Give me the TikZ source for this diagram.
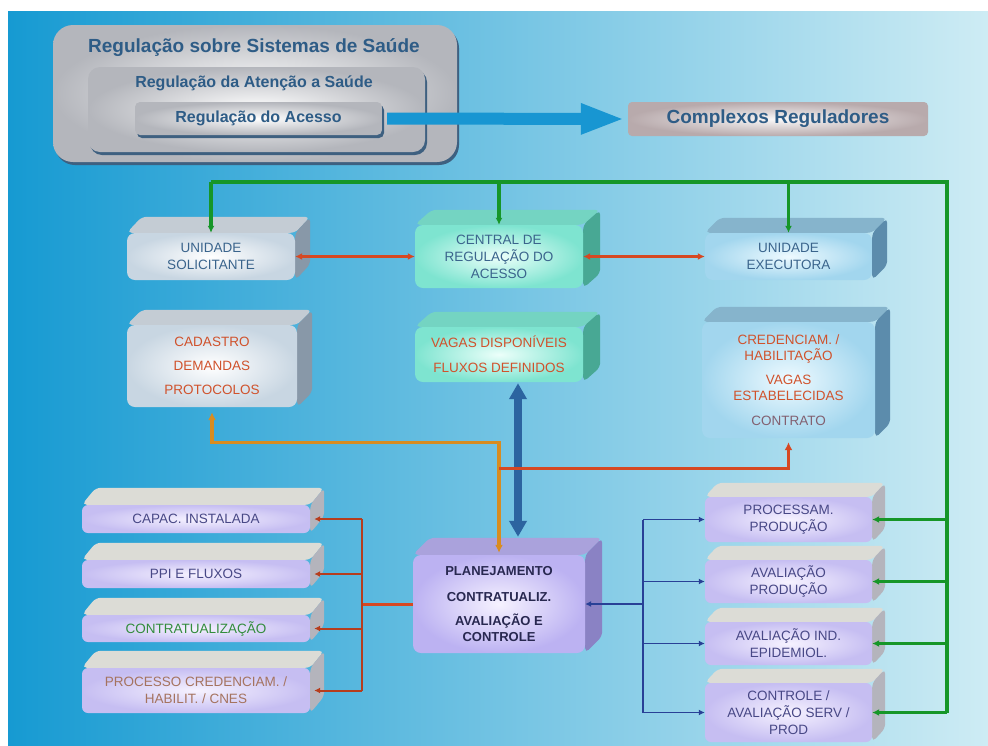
\documentclass[tikz,border=0pt]{standalone}
\usepackage{fontspec}
\setmainfont{Liberation Sans}
\usepackage{tikz}
\usetikzlibrary{arrows.meta,calc}

\definecolor{bgl}{RGB}{22,154,210}
\definecolor{bgr}{RGB}{206,236,244}
\definecolor{hdrtxt}{RGB}{46,92,134}
\definecolor{hdrgray}{RGB}{180,182,188}
\definecolor{rim}{RGB}{62,96,128}
\definecolor{crgray}{RGB}{184,170,172}
\definecolor{txtblue}{RGB}{58,100,140}
\definecolor{txtred}{RGB}{208,82,44}
\definecolor{txtmute}{RGB}{130,96,112}
\definecolor{txtnavy}{RGB}{40,40,80}
\definecolor{txtslate}{RGB}{72,72,134}
\definecolor{txtgreen}{RGB}{50,140,60}
\definecolor{txtbrown}{RGB}{165,115,95}
\definecolor{greenln}{RGB}{22,150,40}
\definecolor{redln}{RGB}{214,72,34}
\definecolor{orangeln}{RGB}{216,140,32}
\definecolor{blueln}{RGB}{44,100,160}
\definecolor{navyln}{RGB}{40,64,150}
\definecolor{arrowblue}{RGB}{24,150,210}
\definecolor{grayout}{RGB}{200,214,226}
\definecolor{graytop}{RGB}{196,204,212}
\definecolor{grayside}{RGB}{136,152,168}
\definecolor{aquain}{RGB}{236,255,250}
\definecolor{aquaout}{RGB}{126,228,208}
\definecolor{aquatop}{RGB}{116,212,194}
\definecolor{aquaside}{RGB}{72,168,148}
\definecolor{skyin}{RGB}{238,250,255}
\definecolor{skyout}{RGB}{162,214,238}
\definecolor{skytop}{RGB}{134,180,204}
\definecolor{skyside}{RGB}{92,140,172}
\definecolor{lilacin}{RGB}{246,242,255}
\definecolor{lilacout}{RGB}{188,178,242}
\definecolor{lilactop}{RGB}{170,162,220}
\definecolor{lilacside}{RGB}{138,130,196}
\definecolor{slabout}{RGB}{198,190,242}
\definecolor{slabtop}{RGB}{220,220,214}
\definecolor{slabside}{RGB}{180,180,188}

\pgfdeclarelayer{back}
\pgfdeclarelayer{faces}
\pgfsetlayers{back,faces,main}

\newcommand\boxfont{\fontsize{13.5}{17}\selectfont}
\newcommand\extrude[5]{%
  \fill[#4,rounded corners=5pt] (#1.north west) -- ([shift={(#2pt,#3pt)}]#1.north west) -- ([shift={(#2pt,#3pt)}]#1.north east) -- (#1.north east) -- cycle;
  \fill[#5,rounded corners=5pt] (#1.north east) -- ([shift={(#2pt,#3pt)}]#1.north east) -- ([shift={(#2pt,#3pt)}]#1.south east) -- (#1.south east) -- cycle;}

\tikzset{
  hdr/.style={inner color=white, outer color=hdrgray, preaction={fill=rim, transform canvas={shift={(2pt,-3pt)}}}, text=hdrtxt, font=\bfseries\fontsize{16}{18}\selectfont},
  hdrtext/.style={text=hdrtxt, inner sep=0pt},
  face/.style={rounded corners=8pt, align=center, inner sep=0pt, font=\boxfont},
  grayface/.style={face, inner color=white, outer color=grayout},
  aquaface/.style={face, inner color=aquain, outer color=aquaout},
  skyface/.style={face, inner color=skyin, outer color=skyout},
  lilacface/.style={face, inner color=lilacin, outer color=lilacout},
  slab/.style={face, rounded corners=6pt, inner color=lilacin, outer color=slabout, minimum width=228pt},
  rslab/.style={face, rounded corners=6pt, inner color=lilacin, outer color=slabout, minimum width=167pt, text=txtslate},
  gl/.style={greenln, line width=3.2pt},
  rl/.style={redln, line width=3pt},
  rthin/.style={redln!85!black, line width=2pt},
  ol/.style={orangeln, line width=3.2pt},
  nl/.style={navyln, line width=1.8pt},
  tip/.style={-{Latex[length=7pt,width=7pt]}}
}

\begin{document}
\begin{tikzpicture}[x=1pt,y=-1pt]
\useasboundingbox (0,0) rectangle (988,745);
\begin{pgfonlayer}{back}
\fill[left color=bgl, right color=bgr] (8,11) rectangle (988,745);
\end{pgfonlayer}

\node[hdr, rounded corners=20pt, minimum width=404pt, minimum height=137pt] (sss) at (255,93.5) {};
\node[hdrtext, font=\bfseries\fontsize{19}{21}\selectfont] (sssT) at (254,48) {Regulação sobre Sistemas de Saúde};
\node[hdr, rounded corners=12pt, minimum width=337pt, minimum height=85pt] (ras) at (256.5,109.5) {};
\node[hdrtext, font=\bfseries\fontsize{16}{18}\selectfont] (rasT) at (254,83) {Regulação da Atenção a Saúde};
\node[hdr, rounded corners=5pt, minimum width=247pt, minimum height=33pt] (rac) at (258.5,118.5) {Regulação do Acesso};
\node[inner color=white!92!crgray, outer color=crgray, rounded corners=4pt, minimum width=300pt, minimum height=34pt, text=hdrtxt, font=\bfseries\fontsize{19}{21}\selectfont] (cr) at (778,119) {Complexos Reguladores};
\draw[line width=12pt, arrowblue, -{Triangle[length=44pt,width=28pt]}] ([xshift=5pt]rac.east) -- ([xshift=-3pt]cr.west);

\node[grayface, minimum width=168pt, minimum height=47pt, text=txtblue] (us) at (211,256.5) {UNIDADE\\SOLICITANTE};
\node[aquaface, minimum width=168pt, minimum height=63pt, text=txtblue] (cra) at (499,256.5) {CENTRAL DE\\REGULAÇÃO DO\\ACESSO};
\node[skyface, minimum width=167pt, minimum height=47pt, text=txtblue] (ue) at (788.5,256.5) {UNIDADE\\EXECUTORA};
\node[grayface, minimum width=170pt, minimum height=82pt, text=txtred] (cad) at (212,366) {CADASTRO\\[7pt]DEMANDAS\\[7pt]PROTOCOLOS};
\node[aquaface, minimum width=168pt, minimum height=55pt, text=txtred] (vd) at (499,354.5) {VAGAS DISPONÍVEIS\\[8pt]FLUXOS DEFINIDOS};
\node[skyface, minimum width=173pt, minimum height=116pt, text=txtred, font=\fontsize{13.5}{16}\selectfont] (cred) at (788.5,380) {CREDENCIAM. /\\HABILITAÇÃO\\[8pt]VAGAS\\ESTABELECIDAS\\[9pt]\textcolor{txtmute}{CONTRATO}};
\node[lilacface, minimum width=172pt, minimum height=98pt, text=txtnavy, font=\bfseries\fontsize{13}{16}\selectfont] (pl) at (499,604) {PLANEJAMENTO\\[10pt]CONTRATUALIZ.\\[8pt]AVALIAÇÃO E\\CONTROLE};

\node[slab, minimum height=28pt, text=txtslate] (cap) at (196,519) {CAPAC. INSTALADA};
\node[slab, minimum height=28pt, text=txtslate] (ppi) at (196,574) {PPI E FLUXOS};
\node[slab, minimum height=27pt, text=txtgreen] (con) at (196,628.5) {CONTRATUALIZAÇÃO};
\node[slab, minimum height=45pt, text=txtbrown] (pro) at (196,690.5) {PROCESSO CREDENCIAM. /\\HABILIT. / CNES};

\node[rslab, minimum height=45pt] (proc) at (788.5,519.5) {PROCESSAM.\\PRODUÇÃO};
\node[rslab, minimum height=43pt] (avp) at (788.5,581.5) {AVALIAÇÃO\\PRODUÇÃO};
\node[rslab, minimum height=43pt] (avi) at (788.5,643.5) {AVALIAÇÃO IND.\\EPIDEMIOL.};
\node[rslab, minimum height=59pt] (ctrl) at (788.5,712.5) {CONTROLE /\\AVALIAÇÃO SERV /\\PROD};

\begin{pgfonlayer}{faces}
\extrude{us}{15}{16}{graytop}{grayside}
\extrude{cad}{15}{15}{graytop}{grayside}
\extrude{cra}{17}{15}{aquatop}{aquaside}
\extrude{vd}{17}{15}{aquatop}{aquaside}
\extrude{ue}{15}{15}{skytop}{skyside}
\extrude{cred}{15}{15}{skytop}{skyside}
\extrude{pl}{17}{17}{lilactop}{lilacside}
\foreach \n in {cap,ppi,con,pro} {\extrude{\n}{14}{17}{slabtop}{slabside}}
\foreach \n in {proc,avp,avi,ctrl} {\extrude{\n}{13}{14}{slabtop}{slabside}}
\end{pgfonlayer}

\coordinate (gc) at (947,182);
\draw[gl] (us.north |- gc) -- (gc) -- (gc |- ctrl.east);
\foreach \n in {us,cra,ue} \draw[gl,tip] (\n.north |- gc) -- (\n.north);
\foreach \n in {proc,avp,avi,ctrl} \draw[gl,tip] (gc |- \n.east) -- (\n.east);

\draw[rl,{Latex[length=7pt,width=7pt]}-{Latex[length=7pt,width=7pt]}] (us.east) -- (cra.west);
\draw[rl,{Latex[length=7pt,width=7pt]}-{Latex[length=7pt,width=7pt]}] (cra.east) -- (ue.west);

\draw[ol,{Latex[length=8pt,width=8pt]}-{Latex[length=8pt,width=8pt]}] ([yshift=-5pt]cad.south) -- ++(0,30) -| ([yshift=2pt]pl.north);
\draw[blueln, line width=8pt, {Triangle[length=16pt,width=17pt]}-{Triangle[length=16pt,width=17pt]}] ([xshift=19pt,yshift=-1pt]vd.south) -- ([xshift=19pt,yshift=18pt]pl.north);
\coordinate (rj) at (499,468);
\draw[rl,{Latex[length=8pt,width=8pt]}-] ([yshift=-4pt]cred.south) |- (rj);

\coordinate (lb) at (362,604);
\draw[rl] (pl.west) -- (lb);
\draw[rthin] (lb |- cap.east) -- (lb |- pro.east);
\foreach \n in {cap,ppi,con,pro} \draw[rthin,-{Latex[length=6pt,width=6pt]}] (lb |- \n.east) -- ([xshift=4pt]\n.east);

\coordinate (rb) at (643,604);
\draw[nl,{Latex[length=6pt,width=6pt]}-] (pl.east) -- (rb);
\draw[nl] (rb |- proc.west) -- (rb |- ctrl.west);
\foreach \n in {proc,avp,avi,ctrl} \draw[nl,-{Latex[length=6pt,width=6pt]}] (rb |- \n.west) -- (\n.west);
\end{tikzpicture}
\end{document}
